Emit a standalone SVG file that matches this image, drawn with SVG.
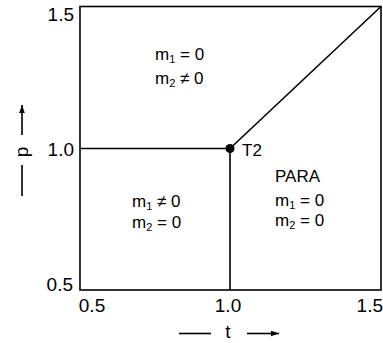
<svg xmlns="http://www.w3.org/2000/svg" width="383" height="343" viewBox="0 0 383 343">
<style>
text{font-family:"Liberation Sans",Arial,sans-serif;fill:#000}
.tick{font-size:19px}
.lab{font-size:17px}
.sub{font-size:11px}
.ln{stroke:#000;fill:none;stroke-width:1.6}
</style>
<defs>
<marker id="ah" viewBox="0 0 10 10" refX="10" refY="5" markerWidth="8" markerHeight="8" markerUnits="userSpaceOnUse" orient="auto">
<path d="M0,1.5 L10,5 L0,8.5 Z" fill="#000"/>
</marker>
</defs>
<g id="frame">
<rect x="80" y="6.5" width="301" height="283.5" class="ln"/>
</g>
<g id="connectors">
<line x1="80" y1="148.5" x2="230" y2="148.5" class="ln" stroke-width="2.2"/>
<line x1="230" y1="148.5" x2="230" y2="290" class="ln"/>
<line x1="230" y1="148.5" x2="381" y2="6.5" class="ln"/>
</g>
<g id="T2">
<circle cx="230" cy="148.5" r="4.5" fill="#000"/>
<text x="242" y="156" class="lab" font-size="18">T2</text>
</g>
<g id="ticks">
<text x="74" y="21" class="tick" text-anchor="end">1.5</text>
<text x="74" y="156" class="tick" text-anchor="end">1.0</text>
<text x="73" y="291" class="tick" text-anchor="end">0.5</text>
<text x="92" y="312" class="tick" text-anchor="middle">0.5</text>
<text x="228" y="312" class="tick" text-anchor="middle">1.0</text>
<text x="383" y="312" class="tick" text-anchor="end">1.5</text>
</g>
<g id="xaxis">
<line x1="179" y1="333.5" x2="211" y2="333.5" class="ln"/>
<text x="228" y="338" class="tick" text-anchor="middle">t</text>
<line x1="247" y1="333.5" x2="279" y2="333.5" class="ln" marker-end="url(#ah)"/>
</g>
<g id="yaxis">
<line x1="22" y1="196" x2="22" y2="165" class="ln"/>
<text transform="translate(28,152) rotate(-90)" class="tick" text-anchor="middle">p</text>
<line x1="22" y1="135" x2="22" y2="105" class="ln" marker-end="url(#ah)"/>
</g>
<g id="region-top">
<text x="155" y="60" class="lab">m<tspan class="sub" dy="3">1</tspan><tspan dy="-3"> = 0</tspan></text>
<text x="155" y="84" class="lab">m<tspan class="sub" dy="3">2</tspan><tspan dy="-3"> ≠ 0</tspan></text>
</g>
<g id="region-left">
<text x="132" y="207" class="lab">m<tspan class="sub" dy="3">1</tspan><tspan dy="-3"> ≠ 0</tspan></text>
<text x="132" y="228" class="lab">m<tspan class="sub" dy="3">2</tspan><tspan dy="-3"> = 0</tspan></text>
</g>
<g id="region-para">
<text x="275" y="182" class="lab">PARA</text>
<text x="275" y="206" class="lab">m<tspan class="sub" dy="3">1</tspan><tspan dy="-3"> = 0</tspan></text>
<text x="275" y="226" class="lab">m<tspan class="sub" dy="3">2</tspan><tspan dy="-3"> = 0</tspan></text>
</g>
</svg>
